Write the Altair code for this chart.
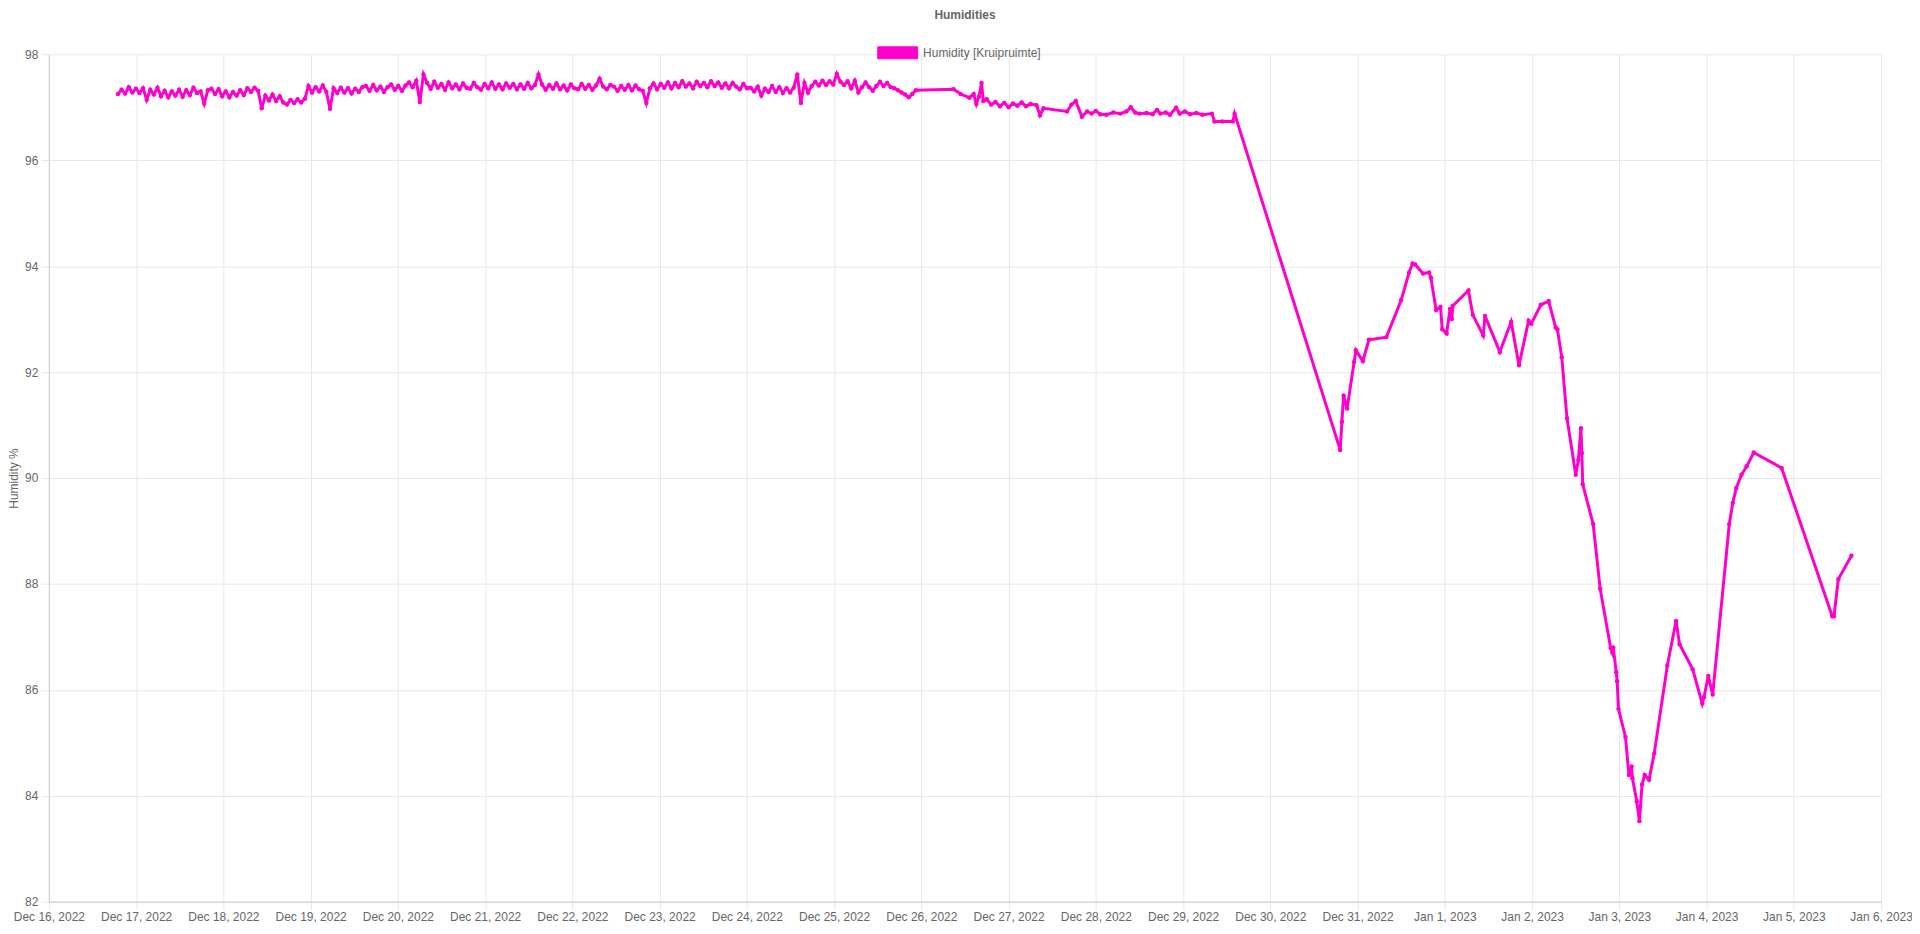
import altair as alt
import pandas as pd

series_name = "Humidity [Kruipruimte]"
line_color = "#ff00cc"

# dense, roughly hourly readings (Dec 16 19:00 -> Dec 25 22:30)
dense_start = "2022-12-16T19:00:00"
dense_end = "2022-12-25T22:30:00"
dense_values = [
    97.25, 97.33, 97.26, 97.38, 97.28, 97.35,
    97.27, 97.36, 97.14, 97.33, 97.24, 97.37,
    97.21, 97.31, 97.19, 97.30, 97.22, 97.33, 97.20, 97.32, 97.23, 97.37, 97.27, 97.30,
    97.07, 97.32, 97.35, 97.25, 97.34,
    97.21, 97.30, 97.19, 97.29, 97.22, 97.32, 97.23,
    97.36, 97.29, 97.37, 97.31,
    96.98,
    97.22, 97.13, 97.24, 97.12, 97.21, 97.09, 97.05,
    97.14, 97.08, 97.15, 97.09, 97.16,
    97.40, 97.28, 97.38, 97.30, 97.41, 97.29,
    96.97,
    97.36, 97.27, 97.37, 97.28, 97.36, 97.26, 97.35, 97.29, 97.38,
    97.40, 97.31, 97.42, 97.32, 97.39, 97.29, 97.38, 97.43, 97.33, 97.40, 97.31, 97.41,
    97.47, 97.38, 97.50, 97.10, 97.62,
    97.46, 97.35, 97.48, 97.37, 97.44, 97.33, 97.47, 97.36, 97.43, 97.34, 97.45, 97.37,
    97.35, 97.46, 97.38, 97.33, 97.44, 97.36, 97.47, 97.35, 97.43, 97.34, 97.45,
    97.37, 97.44, 97.34, 97.43, 97.35, 97.46, 97.36, 97.42,
    97.62,
    97.43, 97.33, 97.42, 97.35, 97.45, 97.34, 97.41, 97.32, 97.43, 97.36, 97.34, 97.44,
    97.35, 97.42, 97.33, 97.41, 97.54, 97.39, 97.34, 97.42,
    97.39, 97.31, 97.40, 97.33, 97.42, 97.32, 97.41, 97.34, 97.31, 97.08,
    97.36, 97.45, 97.34, 97.44, 97.37, 97.47, 97.36, 97.46, 97.38, 97.49, 97.39, 97.45,
    97.36, 97.48, 97.40,
    97.46, 97.38, 97.49, 97.40, 97.47, 97.37, 97.45, 97.36, 97.46, 97.39, 97.34, 97.44, 97.36,
    97.37, 97.30, 97.39, 97.22, 97.35, 97.29, 97.40, 97.29, 97.38, 97.27, 97.36, 97.28, 97.37,
    97.62, 97.08,
    97.46, 97.28, 97.40,
    97.48, 97.41, 97.50, 97.42, 97.49, 97.43, 97.63,
    97.48, 97.42, 97.49,
    97.36, 97.50, 97.28, 97.38, 97.47, 97.38, 97.31, 97.40, 97.48, 97.40, 97.46, 97.38,
    97.36, 97.32, 97.28, 97.24, 97.19,
    97.25, 97.32,
]

# sparse readings: days after Dec 16, 2022 00:00
sparse_days = [
    10.37, 10.45, 10.55, 10.60, 10.63, 10.66, 10.69, 10.71, 10.75, 10.80,
    10.85, 10.90, 10.95, 11.00, 11.05, 11.10, 11.15, 11.20, 11.25, 11.32,
    11.36, 11.40, 11.67, 11.72, 11.77, 11.84, 11.90, 11.95, 12.00, 12.05,
    12.12, 12.20, 12.28, 12.35, 12.40, 12.45, 12.50, 12.58, 12.65, 12.70,
    12.74, 12.80, 12.85, 12.92, 12.96, 13.02, 13.08, 13.15, 13.22, 13.33,
    13.36, 13.45, 13.57, 13.59,
    14.80, 14.82, 14.84, 14.88, 14.96, 14.98, 15.06, 15.13, 15.33, 15.50,
    15.59, 15.63, 15.66, 15.75, 15.82, 15.84, 15.90, 15.95, 15.97, 16.02,
    16.06, 16.08, 16.09, 16.27, 16.32, 16.44, 16.46, 16.63, 16.76, 16.85,
    16.96, 16.99, 17.10, 17.19, 17.27, 17.29, 17.34, 17.40, 17.50, 17.53,
    17.56, 17.57, 17.58, 17.70, 17.78, 17.90, 17.92, 17.93, 17.965, 17.975,
    17.99, 18.07, 18.11, 18.14, 18.15, 18.20, 18.23, 18.26, 18.29, 18.34,
    18.40, 18.55, 18.65, 18.69, 18.84, 18.95, 18.97, 19.02, 19.07, 19.26,
    19.30, 19.34, 19.40, 19.46, 19.54, 19.86, 20.44, 20.46, 20.51, 20.66,
]
sparse_values = [
    97.34, 97.25, 97.18, 97.25, 97.06, 97.20, 97.46, 97.12, 97.15, 97.05,
    97.10, 97.02, 97.08, 97.00, 97.07, 97.03, 97.09, 97.02, 97.06, 97.04,
    96.85, 96.98, 96.92, 97.05, 97.12, 96.82, 96.92, 96.88, 96.93, 96.87,
    96.86, 96.90, 96.88, 96.92, 97.00, 96.90, 96.88, 96.89, 96.87, 96.95,
    96.88, 96.90, 96.86, 96.99, 96.88, 96.92, 96.87, 96.89, 96.86, 96.88,
    96.73, 96.73, 96.73, 96.88,
    90.53, 91.06, 91.56, 91.31, 92.19, 92.41, 92.21, 92.61, 92.66, 93.36,
    93.88, 94.05, 94.03, 93.86, 93.88, 93.78, 93.17, 93.23, 92.81, 92.73,
    93.19, 93.00, 93.25, 93.54, 93.08, 92.69, 93.06, 92.38, 92.95, 92.13,
    92.97, 92.91, 93.27, 93.34, 92.84, 92.81, 92.28, 91.13, 90.06, 90.34,
    90.94, 90.47, 89.88, 89.13, 87.91, 86.79, 86.70, 86.80, 86.33, 86.16,
    85.64, 85.11, 84.39, 84.55, 84.33, 83.89, 83.52, 84.21, 84.39, 84.30,
    84.80, 86.46, 87.30, 86.86, 86.39, 85.74, 85.86, 86.26, 85.91, 89.13,
    89.53, 89.81, 90.06, 90.22, 90.48, 90.19, 87.39, 87.39, 88.09, 88.53,
]

y_ticks = [82, 84, 86, 88, 90, 92, 94, 96, 98]
x_tick_dates = [(2022, 12, d) for d in range(16, 32)] + [(2023, 1, d) for d in range(1, 7)]

base = pd.Timestamp("2022-12-16T00:00:00")
t_dense = list(pd.date_range(dense_start, dense_end, periods=len(dense_values)))
t_sparse = [base + pd.Timedelta(days=d) for d in sparse_days]
df = pd.DataFrame({
    "time": [t.strftime("%Y-%m-%dT%H:%M:%S") for t in t_dense + t_sparse],
    "humidity": dense_values + sparse_values,
    "series": series_name,
})

x_ticks = [alt.DateTime(year=y, month=m, date=d) for (y, m, d) in x_tick_dates]
font = "Arial"
grid_color = "#e8e8e8"

x_enc = alt.X(
    "time:T",
    scale=alt.Scale(domain=[x_ticks[0], x_ticks[-1]]),
    axis=alt.Axis(
        values=x_ticks, format="%b %-d, %Y", labelAngle=0, title=None,
        tickSize=8, labelPadding=2, labelFlush=False, labelOverlap=False,
        labelFont=font, labelFontSize=12, labelColor="#666666",
        gridColor=grid_color, tickColor=grid_color, domainColor="#cccccc",
    ),
)
y_enc = alt.Y(
    "humidity:Q",
    scale=alt.Scale(domain=[82, 98], nice=False, zero=False),
    axis=alt.Axis(
        values=y_ticks, title="Humidity %", titleFont=font, titleFontSize=12,
        titleFontWeight="normal", titleColor="#666666", titlePadding=4,
        tickSize=8, labelPadding=3,
        labelFont=font, labelFontSize=12, labelColor="#666666",
        gridColor=grid_color, tickColor=grid_color, domainColor="#cccccc",
    ),
)
color_enc = alt.Color(
    "series:N",
    scale=alt.Scale(domain=[series_name], range=[line_color]),
    legend=alt.Legend(
        title=None, orient="none", legendX=831, legendY=-22,
        symbolType="M-1,-0.3H1V0.3H-1Z", symbolSize=1600,
        symbolFillColor=line_color, symbolStrokeColor=line_color,
        symbolOpacity=1, symbolStrokeWidth=1,
        labelFont=font, labelFontSize=12, labelColor="#666666", labelOffset=5,
    ),
)

points = alt.Chart(df).mark_point(filled=True, size=20, opacity=1).encode(
    x=x_enc, y=y_enc, color=color_enc
)
line = alt.Chart(df).mark_line(strokeWidth=3).encode(
    x=x_enc, y=y_enc, color=color_enc
)

chart = alt.layer(points, line).properties(
    width=1838,
    height=850,
    title=alt.TitleParams(
        "Humidities", font=font, fontSize=12, fontWeight="bold",
        color="#666666", anchor="middle", offset=10,
    ),
    padding={"left": 41, "top": 45, "right": 31, "bottom": 30},
    autosize=alt.AutoSizeParams(type="none"),
).configure_view(stroke=None)

chart.save("out.html", embed_options={"renderer": "svg", "actions": False})
